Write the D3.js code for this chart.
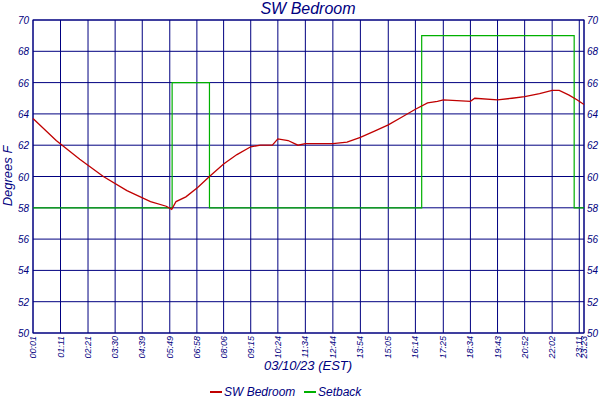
<!DOCTYPE html>
<html><head><meta charset="utf-8">
<script src="https://cdn.jsdelivr.net/npm/d3@7"></script>
<style>body{margin:0;background:#fff}text{font-family:"Liberation Sans",sans-serif;font-style:italic;fill:#000080}</style>
</head><body><svg width="600" height="400"></svg>
<script>
const tickLabels = ['00:01','01:11','02:21','03:30','04:39','05:49','06:58','08:06','09:15','10:24','11:34','12:44','13:54','15:05','16:14','17:25','18:34','19:43','20:52','22:02','23:11','23:23'];
const tempTimes = ['00:01','01:00','02:00','03:00','04:00','05:00','05:40','05:54','06:05','06:30','07:00','07:30','08:06','08:40','09:15','09:40','10:10','10:24','10:50','11:15','11:34','12:44','13:20','13:54','14:30','15:05','15:40','16:14','16:45','17:10','17:25','18:34','18:45','19:43','20:20','20:52','21:30','22:02','22:20','22:45','23:05','23:23'];
const tempValues = [63.7,62.3,61.1,60.0,59.1,58.4,58.1,57.9,58.4,58.7,59.3,60.0,60.8,61.4,61.9,62.0,62.0,62.4,62.3,62.0,62.1,62.1,62.2,62.5,62.9,63.3,63.8,64.3,64.7,64.8,64.9,64.8,65.0,64.9,65.0,65.1,65.3,65.5,65.5,65.2,64.9,64.6];
const setTimes = ['00:01','05:55','07:30','16:30','22:58','23:23'];
const setValues = [58,66,58,69,58,58];

const pt = s => { const [h,m] = s.split(':').map(Number); return h*60+m; };
const svg = d3.select('svg');
const x = d3.scaleLinear().domain([pt('00:01'), pt('23:23')]).range([33,584]);
const y = d3.scaleLinear().domain([50,70]).range([333,20]);
const navy = '#000080';

const g = svg.append('g');
g.selectAll('.h').data(d3.range(50,71,2)).enter().append('line')
  .attr('x1',33).attr('x2',584).attr('y1',d=>y(d)).attr('y2',d=>y(d)).attr('stroke',navy);
g.selectAll('.v').data(tickLabels).enter().append('line')
  .attr('x1',d=>x(pt(d))).attr('x2',d=>x(pt(d))).attr('y1',20).attr('y2',333).attr('stroke',navy);
g.append('rect').attr('x',33).attr('y',20).attr('width',551).attr('height',313).attr('fill','none').attr('stroke',navy);

svg.append('g').selectAll('text').data(d3.range(50,71,2)).enter().append('text')
  .attr('x',29).attr('y',d=>y(d)+4).attr('text-anchor','end').attr('font-size',10).text(d=>d);
svg.append('g').selectAll('text').data(d3.range(50,71,2)).enter().append('text')
  .attr('x',587).attr('y',d=>y(d)+4).attr('font-size',10).text(d=>d);
svg.append('g').selectAll('text').data(tickLabels).enter().append('text')
  .attr('transform',d=>`translate(${x(pt(d))+3},336) rotate(-90)`).attr('text-anchor','end')
  .attr('font-size',9).text(d=>d);

const line = d3.line().curve(d3.curveStepAfter).x(d=>x(pt(d[0]))).y(d=>y(d[1]));
svg.append('path').datum(d3.zip(setTimes,setValues)).attr('d',line).attr('fill','none').attr('stroke','#00b000').attr('stroke-width',1.2);
const tline = d3.line().x(d=>x(pt(d[0]))).y(d=>y(d[1]));
svg.append('path').datum(d3.zip(tempTimes,tempValues)).attr('d',tline).attr('fill','none').attr('stroke','#c00000').attr('stroke-width',1.3);

svg.append('text').attr('x',308).attr('y',14).attr('text-anchor','middle').attr('font-size',16).text('SW Bedroom');
svg.append('text').attr('x',308).attr('y',370).attr('text-anchor','middle').attr('font-size',13).text('03/10/23 (EST)');
svg.append('text').attr('transform','translate(12,176) rotate(-90)').attr('text-anchor','middle').attr('font-size',13).text('Degrees F');

const leg = svg.append('g');
[['SW Bedroom','#c00000',210],['Setback','#00b000',304]].forEach(([t,c,lx])=>{
  leg.append('line').attr('x1',lx).attr('x2',lx+12).attr('y1',392).attr('y2',392).attr('stroke',c).attr('stroke-width',2);
  leg.append('text').attr('x',lx+14).attr('y',396).attr('font-size',12).text(t);
});
</script></body></html>
